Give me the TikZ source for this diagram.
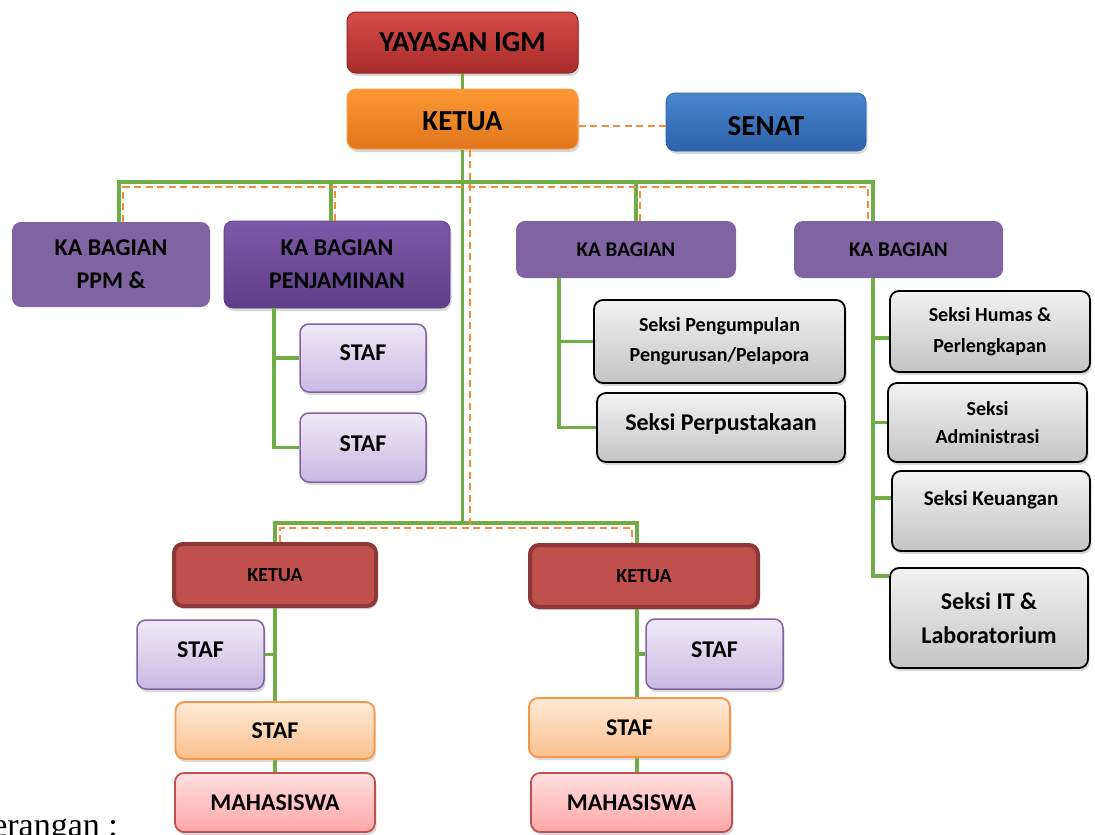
\documentclass[tikz,border=0pt]{standalone}
\usepackage{fontspec}
\setmainfont{Carlito}
\newfontfamily\ketfont{Liberation Serif}
\usetikzlibrary{shadows}

\definecolor{linkgreen}{RGB}{112,173,71}
\definecolor{linkorange}{RGB}{244,140,60}
\definecolor{yayasantop}{RGB}{214,76,72}
\definecolor{yayasanbot}{RGB}{168,44,42}
\definecolor{yayasanline}{RGB}{140,40,40}
\definecolor{ketuatop}{RGB}{251,152,52}
\definecolor{ketuabot}{RGB}{224,118,28}
\definecolor{ketualine}{RGB}{246,160,80}
\definecolor{senattop}{RGB}{74,134,207}
\definecolor{senatbot}{RGB}{46,98,168}
\definecolor{purple}{RGB}{128,100,162}
\definecolor{penjtop}{RGB}{126,88,168}
\definecolor{penjbot}{RGB}{94,62,134}
\definecolor{laventop}{RGB}{239,234,247}
\definecolor{lavenbot}{RGB}{202,184,227}
\definecolor{graytop}{RGB}{242,242,242}
\definecolor{graybot}{RGB}{196,196,196}
\definecolor{unitred}{RGB}{192,80,77}
\definecolor{unitline}{RGB}{140,56,54}
\definecolor{stafotop}{RGB}{255,234,216}
\definecolor{stafobot}{RGB}{251,192,140}
\definecolor{stafoline}{RGB}{247,150,70}
\definecolor{mhstop}{RGB}{255,224,224}
\definecolor{mhsbot}{RGB}{255,166,166}

\begin{document}
\begin{tikzpicture}[x=1pt,y=-1pt,
    box/.style={rounded corners=9pt, inner sep=0pt, align=center, text=black},
    boxshadow/.style={drop shadow={shadow xshift=1.5pt,shadow yshift=-3pt,opacity=0.3}},
    bigtext/.style={font=\bfseries\fontsize{29}{34}\selectfont},
    midtext/.style={font=\bfseries\fontsize{24}{33}\selectfont},
    smalltext/.style={font=\bfseries\fontsize{20}{30}\selectfont},
    yayasanbox/.style={box, boxshadow, bigtext, top color=yayasantop, bottom color=yayasanbot, draw=yayasanline, line width=1pt},
    ketuabox/.style={box, boxshadow, bigtext, top color=ketuatop, bottom color=ketuabot, draw=ketualine, line width=1pt},
    senatbox/.style={box, boxshadow, bigtext, top color=senattop, bottom color=senatbot, draw=senatbot, line width=0.8pt},
    kabox/.style={box, fill=purple},
    penjbox/.style={box, boxshadow, midtext, top color=penjtop, bottom color=penjbot, draw=penjbot, line width=0.8pt},
    stafbox/.style={box, boxshadow, midtext, top color=laventop, bottom color=lavenbot, draw=purple, line width=1.5pt},
    seksibox/.style={box, boxshadow, top color=graytop, bottom color=graybot, draw=black, line width=1.8pt},
    unitbox/.style={box, boxshadow, smalltext, fill=unitred, draw=unitline, line width=4pt},
    stafobox/.style={box, boxshadow, midtext, top color=stafotop, bottom color=stafobot, draw=stafoline, line width=1.8pt},
    mhsbox/.style={box, boxshadow, midtext, top color=mhstop, bottom color=mhsbot, draw=unitred, line width=1.8pt},
    link/.style={draw=linkgreen, line width=3.2pt},
    dashlink/.style={draw=linkorange, line width=1.8pt, dash pattern=on 7pt off 4.5pt}]

  \path[use as bounding box, clip] (0,0) rectangle (1095,835);

  \node[yayasanbox, minimum width=231pt, minimum height=61pt] at (462.5,42.5) (yayasan) {YAYASAN IGM};
  \node[ketuabox, minimum width=231pt, minimum height=60pt, text height=24pt] at (462.5,119) (ketua) {KETUA};
  \node[senatbox, minimum width=200pt, minimum height=58pt, text height=27pt] at (766,122) (senat) {SENAT};

  \node[kabox, midtext, minimum width=198pt, minimum height=85pt] at (111,264.5) (kappm) {KA BAGIAN\\PPM \&};
  \node[penjbox, minimum width=226pt, minimum height=87pt] at (337,264.5) (kapenj) {KA BAGIAN\\PENJAMINAN};
  \node[stafbox, minimum width=126pt, minimum height=68pt, text depth=10pt] at (363,358) (stafa) {STAF};
  \node[stafbox, minimum width=126pt, minimum height=69pt, text depth=8pt] at (363,447.5) (stafb) {STAF};

  \node[kabox, font=\bfseries\fontsize{21}{26}\selectfont, minimum width=220pt, minimum height=57pt] at (626,249.5) (kathree) {KA BAGIAN};
  \node[seksibox, smalltext, minimum width=251pt, minimum height=83pt] at (719.5,341.5) (pengumpulan) {Seksi Pengumpulan\\Pengurusan/Pelapora};
  \node[seksibox, midtext, minimum width=248pt, minimum height=69pt, text depth=11pt] at (721,427.5) (perpustakaan) {Seksi Perpustakaan};

  \node[kabox, font=\bfseries\fontsize{21}{26}\selectfont, minimum width=209pt, minimum height=57pt] at (898.5,249.5) (kafour) {KA BAGIAN};
  \node[seksibox, font=\bfseries\fontsize{20}{31}\selectfont, minimum width=200pt, minimum height=81pt] at (990,331.5) (humas) {Seksi Humas \&\\Perlengkapan};
  \node[seksibox, font=\bfseries\fontsize{20}{28}\selectfont, minimum width=199pt, minimum height=79pt] at (987.5,422.5) (admin) {Seksi\\Administrasi};
  \node[seksibox, font=\bfseries\fontsize{21}{26}\selectfont, minimum width=198pt, minimum height=80pt, text depth=26pt] at (991,511) (keuangan) {Seksi Keuangan};
  \node[seksibox, font=\bfseries\fontsize{24}{34}\selectfont, minimum width=198pt, minimum height=100pt] at (989,618) (itlab) {Seksi IT \&\\Laboratorium};

  \node[unitbox, minimum width=202pt, minimum height=62pt] at (275,575) (ketual) {KETUA};
  \node[stafbox, minimum width=127pt, minimum height=69pt, text depth=9pt] at (200.5,654.5) (stafpl) {STAF};
  \node[stafobox, minimum width=199pt, minimum height=57pt] at (275,730.5) (stafol) {STAF};
  \node[mhsbox, minimum width=200pt, minimum height=59pt] at (275,802.5) (mhsl) {MAHASISWA};

  \node[unitbox, minimum width=228pt, minimum height=62pt] at (644,576) (ketuar) {KETUA};
  \node[stafbox, minimum width=137pt, minimum height=70pt, text depth=8pt] at (714.5,654) (stafpr) {STAF};
  \node[stafobox, minimum width=201pt, minimum height=59pt] at (629.5,727.5) (stafor) {STAF};
  \node[mhsbox, minimum width=201pt, minimum height=59pt] at (631.5,802.5) (mhsr) {MAHASISWA};

  \node[anchor=base east, inner sep=0pt, font=\ketfont\fontsize{34}{40}\selectfont] at (118,836) (keterangan) {Keterangan :};

  \coordinate (gtop) at (462.5,182);
  \coordinate (glow) at (462.5,523);
  \coordinate (otop) at (470,187);
  \coordinate (olow) at (470,528);
  \coordinate (trunkp) at ([xshift=-63pt]kapenj.south);
  \coordinate (trunkthree) at ([xshift=-67pt]kathree.south);
  \coordinate (trunkfour) at ([xshift=-25.5pt]kafour.south);
  \coordinate (trunkr) at ([xshift=-7pt]ketuar.south);

  \draw[link] (yayasan) -- (ketua);
  \draw[link] (ketua.south) -- (glow);
  \draw[link] ([xshift=8pt]kappm.north) |- (gtop) -| ([xshift=-25.5pt]kafour.north);
  \draw[link] ([xshift=-6pt]kapenj.north) -- ([xshift=-6pt]kapenj.north |- gtop);
  \draw[link] ([xshift=10pt]kathree.north) -- ([xshift=10pt]kathree.north |- gtop);

  \draw[link] (trunkp) |- (stafb.west);
  \draw[link] (stafa.west) -- (stafa.west -| trunkp);

  \draw[link] (trunkthree) |- (perpustakaan.west);
  \draw[link] (pengumpulan.west) -- (pengumpulan.west -| trunkthree);

  \draw[link] (trunkfour) |- ([yshift=42pt]itlab.west);
  \draw[link] ([yshift=-6.5pt]humas.west) -- ([yshift=-6.5pt]humas.west -| trunkfour);
  \draw[link] (admin.west) -- (admin.west -| trunkfour);
  \draw[link] ([yshift=13pt]keuangan.west) -- ([yshift=13pt]keuangan.west -| trunkfour);

  \draw[link] (ketual.north) |- (glow) -| (trunkr |- ketuar.north);
  \draw[link] (ketual) -- (stafol);
  \draw[link] (stafol) -- (mhsl);
  \draw[link] (stafpl.east) -- (stafpl.east -| ketual);
  \draw[link] (trunkr) -- (trunkr |- stafor.north);
  \draw[link] (trunkr |- stafor.south) -- (trunkr |- mhsr.north);
  \draw[link] (stafpr.west) -- (stafpr.west -| trunkr);

  \draw[dashlink] ([yshift=-7pt]ketua.east) -- ([yshift=-7pt]ketua.east -| senat.west);
  \draw[dashlink] ([xshift=12pt]kappm.north) |- (otop) -| ([xshift=-30.5pt]kafour.north);
  \draw[dashlink] ([xshift=-2pt]kapenj.north) -- ([xshift=-2pt]kapenj.north |- otop);
  \draw[dashlink] ([xshift=14pt]kathree.north) -- ([xshift=14pt]kathree.north |- otop);
  \draw[dashlink] ([xshift=7.5pt]ketua.south) -- (olow);
  \draw[dashlink] ([xshift=5pt]ketual.north) |- (olow) -| ([xshift=-12pt]ketuar.north);
\end{tikzpicture}
\end{document}
